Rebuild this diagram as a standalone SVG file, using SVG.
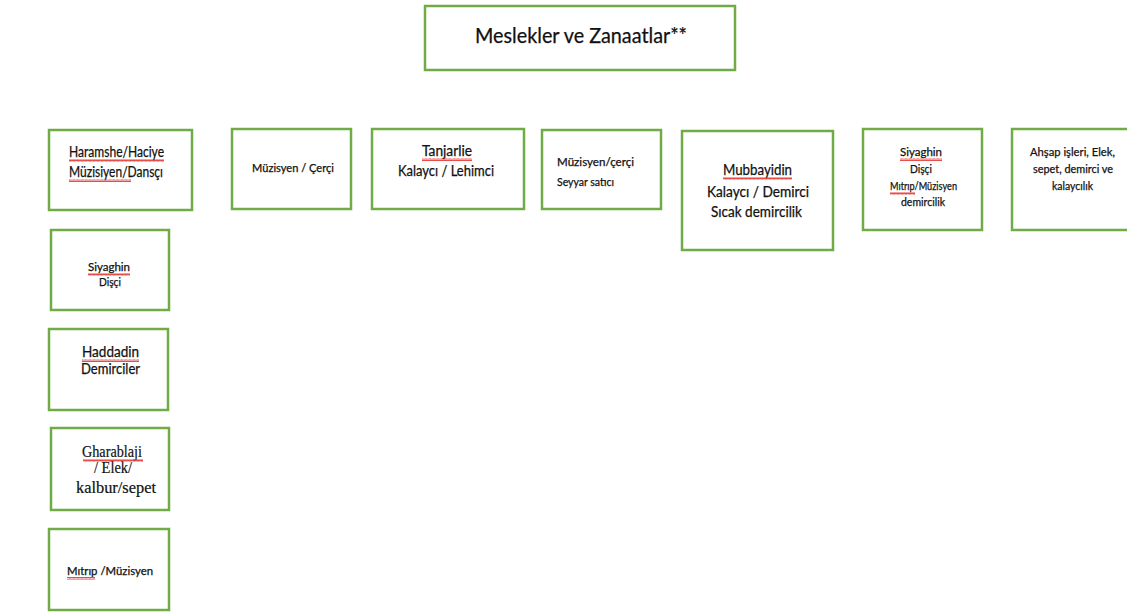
<svg xmlns="http://www.w3.org/2000/svg" width="1127" height="612" viewBox="0 0 1127 612">
<defs>
<pattern id="wave" patternUnits="userSpaceOnUse" width="4" height="3">
<polyline points="0,2.6 1,0.4 2,2.6 3,0.4 4,2.6" fill="none" stroke="#e53935" stroke-width="0.9"/>
</pattern>
</defs>
<style>
.box{fill:#ffffff;stroke:#6fac46;stroke-width:2.5}
.t{font-family:Lato,"Open Sans","Liberation Sans",sans-serif;fill:#111;stroke:#111;stroke-width:0.25;text-anchor:middle}
.l{text-anchor:start}
.s{font-family:"Liberation Serif",serif;fill:#111;stroke:#111;stroke-width:0.2;text-anchor:middle}
.sq{fill:url(#wave)}
</style>
<rect width="1127" height="612" fill="#ffffff"/>
<g id="connectors"></g>
<g id="title">
<rect class="box" x="425" y="6" width="310" height="64"/>
<text class="t" x="581" y="43" font-size="21" textLength="212" lengthAdjust="spacingAndGlyphs">Meslekler ve Zanaatlar**</text>
</g>
<g id="n-haramshe">
<rect class="box" x="49" y="130" width="143" height="80"/>
<text class="t l" x="69" y="157" font-size="14.5" textLength="95" lengthAdjust="spacingAndGlyphs">Haramshe/Haciye</text>
<text class="t l" x="69" y="177" font-size="14.5" textLength="94" lengthAdjust="spacingAndGlyphs">Müzisiyen/Dansçı</text>
<rect class="sq" x="69" y="159" width="95" height="3"/>
<rect class="sq" x="69" y="179" width="62" height="3"/>
</g>
<g id="n-muzisyen-cerci">
<rect class="box" x="232" y="129" width="119" height="80"/>
<text class="t l" x="252" y="172" font-size="11" textLength="82" lengthAdjust="spacingAndGlyphs">Müzisyen / Çerçi</text>
</g>
<g id="n-tanjarlie">
<rect class="box" x="372" y="129" width="152" height="80"/>
<text class="t l" x="422" y="156" font-size="14.5" textLength="50" lengthAdjust="spacingAndGlyphs">Tanjarlie</text>
<text class="t l" x="398" y="176" font-size="14.5" textLength="96" lengthAdjust="spacingAndGlyphs">Kalaycı / Lehimci</text>
<rect class="sq" x="422" y="158" width="50" height="3"/>
</g>
<g id="n-seyyar">
<rect class="box" x="542" y="130" width="119" height="79"/>
<text class="t l" x="557" y="166" font-size="11" textLength="77" lengthAdjust="spacingAndGlyphs">Müzisyen/çerçi</text>
<text class="t l" x="557" y="186" font-size="11" textLength="57" lengthAdjust="spacingAndGlyphs">Seyyar satıcı</text>
</g>
<g id="n-mubbayidin">
<rect class="box" x="682" y="131" width="151" height="119"/>
<text class="t l" x="723" y="175" font-size="14.5" textLength="69" lengthAdjust="spacingAndGlyphs">Mubbayidin</text>
<text class="t l" x="707" y="197" font-size="14.5" textLength="102" lengthAdjust="spacingAndGlyphs">Kalaycı / Demirci</text>
<text class="t l" x="711" y="217" font-size="14.5" textLength="91" lengthAdjust="spacingAndGlyphs">Sıcak demircilik</text>
<rect class="sq" x="723" y="177" width="69" height="3"/>
</g>
<g id="n-siyaghin-top">
<rect class="box" x="863" y="129" width="119" height="101"/>
<text class="t l" x="900" y="156" font-size="11" textLength="42" lengthAdjust="spacingAndGlyphs">Siyaghin</text>
<text class="t l" x="910" y="173" font-size="11" textLength="22" lengthAdjust="spacingAndGlyphs">Dişçi</text>
<text class="t l" x="890" y="190" font-size="11" textLength="67" lengthAdjust="spacingAndGlyphs">Mıtrıp/Müzisyen</text>
<text class="t l" x="901" y="206" font-size="11" textLength="44" lengthAdjust="spacingAndGlyphs">demircilik</text>
<rect class="sq" x="900" y="158" width="42" height="3"/>
<rect class="sq" x="890" y="192" width="25" height="3"/>
</g>
<g id="n-ahsap">
<rect class="box" x="1012" y="129" width="120" height="101"/>
<text class="t l" x="1030" y="156" font-size="11" textLength="85" lengthAdjust="spacingAndGlyphs">Ahşap işleri, Elek,</text>
<text class="t l" x="1033" y="173" font-size="11" textLength="80" lengthAdjust="spacingAndGlyphs">sepet, demirci ve</text>
<text class="t l" x="1052" y="190" font-size="11" textLength="41" lengthAdjust="spacingAndGlyphs">kalaycılık</text>
</g>
<g id="n-siyaghin-left">
<rect class="box" x="51" y="230" width="118" height="80"/>
<text class="t l" x="88" y="271" font-size="10.5" textLength="42" lengthAdjust="spacingAndGlyphs">Siyaghin</text>
<text class="t l" x="99" y="286" font-size="10.5" textLength="22" lengthAdjust="spacingAndGlyphs">Dişçi</text>
<rect class="sq" x="88" y="273" width="42" height="3"/>
</g>
<g id="n-haddadin">
<rect class="box" x="49" y="329" width="119" height="81"/>
<text class="t l" x="82" y="357" font-size="14.5" textLength="57" lengthAdjust="spacingAndGlyphs">Haddadin</text>
<text class="t l" x="81" y="374" font-size="14.5" textLength="59" lengthAdjust="spacingAndGlyphs">Demirciler</text>
<rect class="sq" x="82" y="359" width="57" height="3"/>
</g>
<g id="n-gharablaji">
<rect class="box" x="51" y="428" width="118" height="82"/>
<text class="s" x="112" y="457" font-size="16" textLength="60" lengthAdjust="spacingAndGlyphs">Gharablaji</text>
<text class="s" x="113" y="473" font-size="16" textLength="38" lengthAdjust="spacingAndGlyphs">/ Elek/</text>
<text class="s" x="116" y="493" font-size="16" textLength="80" lengthAdjust="spacingAndGlyphs">kalbur/sepet</text>
<rect class="sq" x="83" y="459" width="60" height="3"/>
</g>
<g id="n-mitrip">
<rect class="box" x="49" y="529" width="120" height="81"/>
<text class="t l" x="67" y="575" font-size="10.5" textLength="86" lengthAdjust="spacingAndGlyphs">Mıtrıp /Müzisyen</text>
<rect class="sq" x="67" y="577" width="28" height="3"/>
</g>
</svg>
